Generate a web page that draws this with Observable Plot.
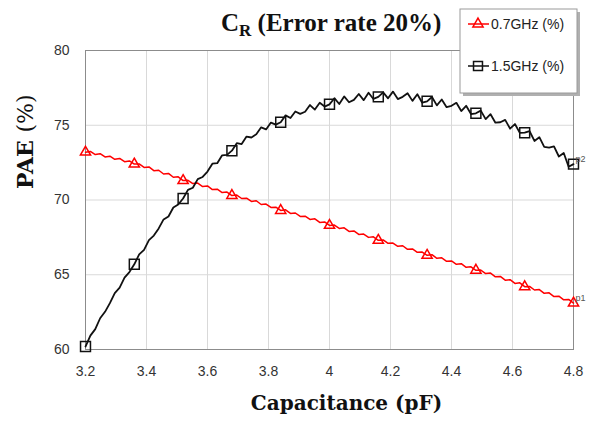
<!DOCTYPE html>
<html><head><meta charset="utf-8">
<script src="https://cdn.jsdelivr.net/npm/d3@7"></script>
<script src="https://cdn.jsdelivr.net/npm/@observablehq/plot@0.6"></script>
<style>
body{margin:0;background:#fff;}
#wrap{position:relative;width:590px;height:426px;overflow:hidden;}
#title{position:absolute;left:221px;top:9px;font:bold 25px "Liberation Serif";white-space:nowrap;color:#111;line-height:normal;}
#title sub{font-size:17px;vertical-align:-5px;line-height:0;}
#legend{position:absolute;left:455px;top:4px;}
</style></head>
<body><div id="wrap"><div id="chart"></div>
<div id="title">C<sub>R</sub> (Error rate 20%)</div>
<div id="legend"></div></div>
<script>
const xTicks = [3.2,3.4,3.6,3.8,4.0,4.2,4.4,4.6,4.8];
const yTicks = [60,65,70,75,80];
const seriesNames = ["0.7GHz (%)", "1.5GHz (%)"];
const capStart = 3.2, capStep = 0.016;
const pae07 = [
73.20,73.25,73.04,73.10,72.88,72.93,72.72,72.78,72.56,72.61,
72.40,72.41,72.18,72.21,71.96,71.99,71.74,71.78,71.52,71.55,
71.30,71.32,71.10,71.13,70.90,70.94,70.70,70.72,70.50,70.53,
70.30,70.33,70.10,70.12,69.90,69.95,69.70,69.73,69.50,69.52,
69.30,69.34,69.10,69.13,68.90,68.92,68.70,68.74,68.50,68.53,
68.30,68.32,68.10,68.14,67.90,67.93,67.70,67.72,67.50,67.54,
67.30,67.33,67.10,67.12,66.90,66.94,66.70,66.73,66.50,66.52,
66.30,66.34,66.10,66.13,65.90,65.92,65.70,65.74,65.50,65.53,
65.30,65.31,65.08,65.11,64.86,64.89,64.64,64.67,64.42,64.46,
64.20,64.22,63.98,64.01,63.76,63.79,63.54,63.57,63.32,63.35,
63.10];
const pae15 = [
60.20,60.93,61.36,62.09,62.52, 63.10,63.77,64.14,64.81,65.18,
65.70,66.36,66.66,67.32,67.62, 68.10,68.70,68.90,69.50,69.70,
70.10,70.68,70.82,71.40,71.54, 71.90,72.43,72.46,72.99,73.02,
73.30,73.80,73.74,74.24,74.18, 74.40,74.86,74.72,75.18,75.04,
75.20,75.66,75.48,75.92,75.76, 75.90,76.35,76.05,76.50,76.25,
76.40,76.81,76.42,76.93,76.54, 76.70,77.09,76.68,77.17,76.76,
76.90,77.20,76.80,77.25,76.75, 76.90,77.14,76.63,77.07,76.51,
76.60,76.89,76.33,76.72,76.21, 76.30,76.50,75.95,76.30,75.75,
75.80,75.98,75.41,75.74,75.17, 75.20,75.36,74.77,75.08,74.49,
74.50,74.60,73.95,74.20,73.55, 73.50,73.58,72.91,73.14,72.22,
72.40];
const markerEvery = 10;
const endLabels = ["p1", "p2"];

const cap = pae07.map((_, i) => +(capStart + i * capStep).toFixed(3));
const red = cap.map((c, i) => ({c, v: pae07[i]}));
const blk = cap.map((c, i) => ({c, v: pae15[i]}));
const redM = red.filter((_, i) => i % markerEvery === 0);
const blkM = blk.filter((_, i) => i % markerEvery === 0);
const ends = [{...red[red.length-1], t: endLabels[0]}, {...blk[blk.length-1], t: endLabels[1]}];
const RED = "#ff0000", BLK = "#111";
const fmt = d => String(+d.toFixed(1));

const chart = Plot.plot({
  width: 590, height: 426,
  marginLeft: 85, marginRight: 17, marginTop: 50, marginBottom: 77,
  x: {domain: [3.2, 4.8]},
  y: {domain: [60, 80]},
  style: {fontFamily: "Liberation Sans", background: "#fff"},
  marks: [
    Plot.gridX(xTicks, {stroke: "#d9d9d9", strokeOpacity: 1}),
    Plot.gridY(yTicks, {stroke: "#d9d9d9", strokeOpacity: 1}),
    Plot.frame({stroke: "#8c8c8c"}),
    Plot.axisX(xTicks, {tickSize: 0, tickPadding: 17, fontSize: 14, fill: "#333", tickFormat: fmt, label: null}),
    Plot.axisY(yTicks, {tickSize: 0, tickPadding: 16, fontSize: 14, fill: "#333", tickFormat: fmt, label: null}),
    Plot.line(red, {x: "c", y: "v", stroke: RED, strokeWidth: 1.5}),
    Plot.line(blk, {x: "c", y: "v", stroke: BLK, strokeWidth: 1.8}),
    Plot.dot(redM, {x: "c", y: "v", symbol: "triangle", r: 3.8, stroke: RED, strokeWidth: 1.5, fill: "none"}),
    Plot.dot(blkM, {x: "c", y: "v", symbol: "square", r: 5.6, stroke: BLK, strokeWidth: 1.5, fill: "none"}),
    Plot.text(ends, {x: "c", y: "v", text: "t", dx: 7, dy: -5, fontSize: 9, fill: "#555"}),
    Plot.text(["PAE (%)"], {frameAnchor: "left", dx: -60, dy: -11, rotate: -90, fontSize: 22, fontWeight: "bold", fontFamily: "DejaVu Serif", fill: "#111"}),
    Plot.text(["Capacitance (pF)"], {frameAnchor: "bottom", dx: 17, dy: 60, fontSize: 20, fontWeight: "bold", fontFamily: "DejaVu Serif", fill: "#111"})
  ]
});
document.getElementById("chart").appendChild(chart);
// "(%)" in the y label is not bold in the reference
d3.select(chart).selectAll("text").filter(function() { return this.textContent === "PAE (%)"; })
  .each(function() {
    const t = d3.select(this);
    t.text("PAE ");
    t.append("tspan").attr("font-weight", "normal").text("(%)");
  });

// legend
const lg = d3.select("#legend").append("svg").attr("width", 135).attr("height", 100);
lg.append("rect").attr("x", 8).attr("y", 8).attr("width", 117).attr("height", 84).attr("fill", "#b0b0b0");
lg.append("rect").attr("x", 5).attr("y", 5).attr("width", 117).attr("height", 84).attr("fill", "#fff").attr("stroke", "#9a9a9a");
const rows = [{name: seriesNames[0], color: RED, sym: d3.symbolTriangle, size: 45, y: 20},
              {name: seriesNames[1], color: BLK, sym: d3.symbolSquare, size: 80, y: 62}];
for (const r of rows) {
  const g = lg.append("g").attr("transform", `translate(0,${r.y})`);
  g.append("line").attr("x1", 13).attr("x2", 34).attr("stroke", r.color).attr("stroke-width", 1.5);
  g.append("path").attr("d", d3.symbol(r.sym, r.size)()).attr("transform", "translate(23,0)")
    .attr("fill", "none").attr("stroke", r.color).attr("stroke-width", 1.5);
  g.append("text").attr("x", 36).attr("dy", "0.35em").attr("font-family", "Liberation Sans")
    .attr("font-size", 14).attr("fill", "#222").text(r.name);
}
</script></body></html>
